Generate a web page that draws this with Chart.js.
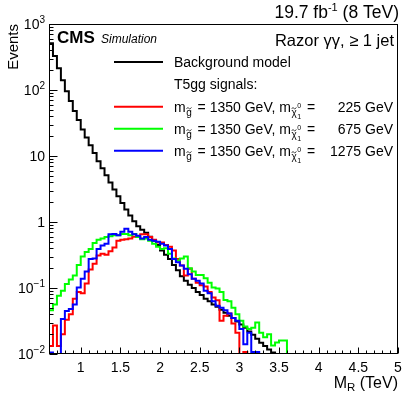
<!DOCTYPE html>
<html><head><meta charset="utf-8">
<script src="https://cdn.jsdelivr.net/npm/chart.js@4/dist/chart.umd.min.js"></script>
<style>html,body{margin:0;padding:0;background:#fff;}#wrap{position:relative;width:411px;height:395px;}</style>
</head><body><div id="wrap"><canvas id="c" width="411" height="395"></canvas></div>
<script>
// M_R bin edges (TeV)
const binEdges = [0.60,0.65,0.70,0.75,0.80,0.85,0.90,0.95,1.00,1.05,1.10,1.15,1.20,1.25,1.30,1.35,1.40,1.45,1.50,1.55,1.60,1.65,1.70,1.75,1.80,1.85,1.90,1.95,2.00,2.05,2.10,2.15,2.20,2.25,2.30,2.35,2.40,2.45,2.50,2.55,2.60,2.65,2.70,2.75,2.80,2.85,2.90,2.95,3.00,3.05,3.10,3.15,3.20,3.25,3.30,3.35,3.40,3.45,3.50,3.55,3.60,3.65,3.70,3.75,3.80,3.85,3.90,3.95,4.00,4.05,4.10,4.15,4.20,4.25,4.30,4.35,4.40,4.45,4.50,4.55,4.60,4.65,4.70,4.75,4.80,4.85,4.90,4.95,5.00];

const backgroundModel = [
 509, 327, 213, 141, 96, 68, 48, 35, 25.2, 19.1,
 14.6, 11.1, 8.3, 6.5, 5.1, 3.96, 3.1, 2.45, 1.94, 1.54,
 1.25, 1.03, 0.86, 0.76, 0.69, 0.60, 0.52, 0.45, 0.37, 0.32,
 0.275, 0.224, 0.186, 0.151, 0.129, 0.112, 0.100, 0.087, 0.078, 0.069,
 0.063, 0.056, 0.052, 0.047, 0.042, 0.038, 0.035, 0.031, 0.028, 0.025,
 0.022, 0.0195, 0.017, 0.0148, 0.0132, 0.0117, 0.0105, 0.0098, 0, 0,
 0,0,0,0,0,0,0,0,0,0, 0,0,0,0,0,0,0,0,0,0, 0,0,0,0,0,0,0,0];

const signalChi225 = [
 0.0132, 0.027, 0.0132, 0.020, 0.033, 0.040, 0.069, 0.087, 0.083, 0.117,
 0.19, 0.234, 0.31, 0.33, 0.32, 0.36, 0.41, 0.52, 0.54, 0.55,
 0.56, 0.60, 0.59, 0.65, 0.65, 0.59, 0.54, 0.49, 0.49, 0.45,
 0.42, 0.37, 0.275, 0.22, 0.155, 0.195, 0.138, 0.12, 0.11, 0.105,
 0.087, 0.072, 0.065, 0.032, 0.038, 0.041, 0.029, 0.021, 0, 0.0107,
 0,0,0,0,0,0,0,0,0,0,
 0,0,0,0,0,0,0,0,0,0, 0,0,0,0,0,0,0,0,0,0, 0,0,0,0,0,0,0,0];

const signalChi675 = [
 0.046, 0.056, 0.076, 0.091, 0.115, 0.135, 0.155, 0.224, 0.30, 0.35,
 0.39, 0.48, 0.54, 0.56, 0.59, 0.61, 0.63, 0.63, 0.66, 0.66,
 0.63, 0.66, 0.59, 0.55, 0.56, 0.52, 0.47, 0.42, 0.39, 0.40,
 0.33, 0.28, 0.26, 0.28, 0.30, 0.20, 0.178, 0.158, 0.158, 0.141,
 0.12, 0.102, 0.098, 0.087, 0.066, 0.063, 0.05, 0.04, 0.032, 0.026,
 0.024, 0.025, 0.030, 0.021, 0.018, 0.020, 0.0135, 0.015, 0.016, 0.016,
 0,0,0,0,0,0,0,0,0,0, 0,0,0,0,0,0,0,0,0,0, 0,0,0,0,0,0,0,0];

const signalChi1275 = [
 0.0105, 0, 0, 0.034, 0.045, 0.048, 0.056, 0.102, 0.138, 0.178,
 0.275, 0.28, 0.39, 0.44, 0.47, 0.65, 0.66, 0.63, 0.71, 0.79,
 0.71, 0.65, 0.62, 0.56, 0.59, 0.54, 0.52, 0.50, 0.47, 0.44,
 0.39, 0.275, 0.245, 0.22, 0.195, 0.162, 0.138, 0.129, 0.117, 0.091,
 0.083, 0.063, 0.054, 0.050, 0.046, 0.041, 0.035, 0.032, 0.024, 0.014,
 0.021, 0.0107, 0.0107, 0, 0, 0, 0, 0, 0, 0,
 0,0,0,0,0,0,0,0,0,0, 0,0,0,0,0,0,0,0,0,0, 0,0,0,0,0,0,0,0];

const xTicks = [1, 1.5, 2, 2.5, 3, 3.5, 4, 4.5, 5];
const xTickLabels = ['1', '1.5', '2', '2.5', '3', '3.5', '4', '4.5', '5'];
const yTicks = [0.01, 0.1, 1, 10, 100, 1000];
const yTickBase = ['10', '10', '1', '10', '10', '10'];
const yTickExp = ['\u22122', '\u22121', '', '', '2', '3'];

const gluinoMass = '1350';
const chiMasses = ['225', '675', '1275'];
const seriesNames = ['Background model', 'T5gg 225', 'T5gg 675', 'T5gg 1275'];
const seriesColors = ['#000000', '#ff0000', '#00ff00', '#0000ff'];

const X_MIN = 0.6, X_MAX = 5.0, Y_MIN = 0.01, Y_MAX = 1000;
const FONT = "'Liberation Sans', Arial, Helvetica, sans-serif";
const fnt = (s, st) => (st ? st + ' ' : '') + s + 'px ' + FONT;

function toPoints(vals) {
  return binEdges.map((e, i) => {
    const v = i < vals.length ? vals[i] : vals[vals.length - 1];
    return { x: e, y: v > 0 ? v : Y_MIN };
  });
}

const allSeries = [backgroundModel, signalChi225, signalChi675, signalChi1275];
const datasets = allSeries.map((s, k) => ({
  label: seriesNames[k],
  data: toPoints(s),
  borderColor: seriesColors[k],
  borderWidth: 2,
  pointRadius: 0,
  fill: false,
  stepped: 'before',
  borderJoinStyle: 'miter',
  order: 4 - k
}));

function tildeAt(ctx, x, y, w) {
  ctx.save();
  ctx.lineWidth = 0.8;
  ctx.beginPath();
  ctx.moveTo(x, y + 0.6);
  ctx.bezierCurveTo(x + w * 0.25, y - 1.4, x + w * 0.5, y + 0.2, x + w * 0.6, y + 0.6);
  ctx.bezierCurveTo(x + w * 0.75, y + 1.4, x + w * 0.9, y - 0.4, x + w, y - 0.8);
  ctx.stroke();
  ctx.restore();
}

function drawSignalLabel(ctx, x, base, rightX, chi) {
  ctx.textAlign = 'left';
  ctx.font = fnt(14);
  let cx = x;
  ctx.fillText('m', cx, base); cx += ctx.measureText('m').width + 0.5;
  ctx.font = fnt(10);
  ctx.fillText('g', cx, base + 4);
  const gw = ctx.measureText('g').width;
  tildeAt(ctx, cx + 0.3, base - 3.5, gw - 0.6);
  cx += gw + 2;
  ctx.font = fnt(14);
  const mid = ' = ' + gluinoMass + ' GeV, m';
  ctx.fillText(mid, cx, base); cx += ctx.measureText(mid).width + 0.5;
  ctx.font = fnt(10);
  ctx.fillText('\u03C7', cx, base + 4);
  const cw = ctx.measureText('\u03C7').width;
  tildeAt(ctx, cx + 0.3, base - 3.5, cw - 0.6);
  cx += cw + 0.5;
  ctx.font = fnt(7);
  ctx.fillText('0', cx, base - 4);
  ctx.fillText('1', cx, base + 7);
  cx += ctx.measureText('0').width + 2;
  ctx.font = fnt(14);
  ctx.fillText(' =', cx, base);
  ctx.textAlign = 'right';
  const gev = ' GeV';
  ctx.fillText(gev, rightX, base);
  ctx.fillText(chi, rightX - ctx.measureText(gev).width, base);
  ctx.textAlign = 'left';
}

const rootStyle = {
  id: 'rootStyle',
  afterDatasetsDraw(chart) {
    const { ctx, chartArea: a, scales } = chart;
    const xs = scales.x, ys = scales.y;
    ctx.save();
    ctx.strokeStyle = '#000'; ctx.fillStyle = '#000'; ctx.lineWidth = 1;
    const L = Math.round(a.left), R = Math.round(a.right), T = Math.round(a.top), B = Math.round(a.bottom);
    ctx.strokeRect(L + 0.5, T + 0.5, R - L - 1, B - T - 1);
    // x ticks
    ctx.beginPath();
    for (let k = 6; k <= 50; k++) {
      const v = k / 10;
      const px = Math.round(xs.getPixelForValue(v)) + 0.5;
      const major = xTicks.some(t => Math.abs(t - v) < 1e-6);
      ctx.moveTo(px, B - 0.5); ctx.lineTo(px, B - 0.5 - (major ? 6 : 3));
    }
    // y ticks
    for (let d = -2; d <= 3; d++) {
      for (let m = 1; m <= 9; m++) {
        const v = m * Math.pow(10, d);
        if (v > Y_MAX * 1.0001) break;
        const py = Math.round(ys.getPixelForValue(v)) + 0.5;
        ctx.moveTo(L + 0.5, py); ctx.lineTo(L + 0.5 + (m === 1 ? 8 : 4), py);
      }
    }
    ctx.stroke();
    // x labels
    ctx.font = fnt(14); ctx.textAlign = 'center'; ctx.textBaseline = 'alphabetic';
    xTicks.forEach((t, i) => ctx.fillText(xTickLabels[i], xs.getPixelForValue(t), 372));
    // y labels
    yTicks.forEach((t, i) => {
      const py = ys.getPixelForValue(t);
      const rx = L - 4;
      ctx.font = fnt(10);
      const ew = yTickExp[i] ? ctx.measureText(yTickExp[i]).width : 0;
      if (yTickExp[i]) { ctx.textAlign = 'right'; ctx.fillText(yTickExp[i], rx, py - 1); }
      ctx.font = fnt(14); ctx.textAlign = 'right';
      ctx.fillText(yTickBase[i], rx - ew, py + 5);
    });
    // axis titles
    ctx.save();
    ctx.translate(18, T);
    ctx.rotate(-Math.PI / 2);
    ctx.font = fnt(15); ctx.textAlign = 'right';
    ctx.fillText('Events', 0, 0);
    ctx.restore();
    ctx.textAlign = 'right';
    ctx.font = fnt(16);
    const tev = ' (TeV)';
    const tw = ctx.measureText(tev).width;
    ctx.fillText(tev, R, 388);
    ctx.font = fnt(11.5);
    const rw = ctx.measureText('R').width;
    ctx.fillText('R', R - tw, 391);
    ctx.font = fnt(16);
    ctx.fillText('M', R - tw - rw, 388);
    // header texts
    ctx.textAlign = 'right';
    ctx.font = fnt(17.5);
    const lumiTail = ' (8 TeV)';
    const ltw = ctx.measureText(lumiTail).width;
    ctx.fillText(lumiTail, 399, 18);
    ctx.font = fnt(11);
    const supw = ctx.measureText('-1').width;
    ctx.fillText('-1', 399 - ltw, 11);
    ctx.font = fnt(17.5);
    ctx.fillText('19.7 fb', 399 - ltw - supw, 18);
    ctx.font = fnt(16.5);
    ctx.fillText('Razor \u03B3\u03B3, \u2265 1 jet', 394, 46);
    ctx.textAlign = 'left';
    ctx.font = fnt(17, 'bold');
    ctx.fillText('CMS', 57, 43);
    ctx.font = fnt(12, 'italic');
    ctx.fillText('Simulation', 101, 43);
    // legend
    const rows = [62, 84.3, 106.7, 128.7, 150.7];
    const lx0 = 114, lx1 = 163, tx = 174, rightX = 393;
    ctx.lineWidth = 2;
    [[0, 0], [1, 2], [2, 3], [3, 4]].forEach(([k, r]) => {
      ctx.strokeStyle = seriesColors[k];
      ctx.beginPath(); ctx.moveTo(lx0, rows[r]); ctx.lineTo(lx1, rows[r]); ctx.stroke();
    });
    ctx.strokeStyle = '#000'; ctx.fillStyle = '#000';
    ctx.font = fnt(14); ctx.textAlign = 'left';
    ctx.fillText(seriesNames[0], tx, rows[0] + 5);
    ctx.fillText('T5gg signals:', tx, rows[1] + 5);
    chiMasses.forEach((c, i) => drawSignalLabel(ctx, tx, rows[2 + i] + 5, rightX, c));
    ctx.restore();
  }
};

new Chart(document.getElementById('c'), {
  type: 'line',
  data: { datasets },
  options: {
    responsive: false,
    animation: false,
    devicePixelRatio: 1,
    layout: { padding: { left: 49, top: 24, right: 13, bottom: 41 } },
    plugins: { legend: { display: false }, tooltip: { enabled: false } },
    scales: {
      x: { type: 'linear', min: X_MIN, max: X_MAX, display: false },
      y: { type: 'logarithmic', min: Y_MIN, max: Y_MAX, display: false }
    }
  },
  plugins: [rootStyle]
});
</script></body></html>
